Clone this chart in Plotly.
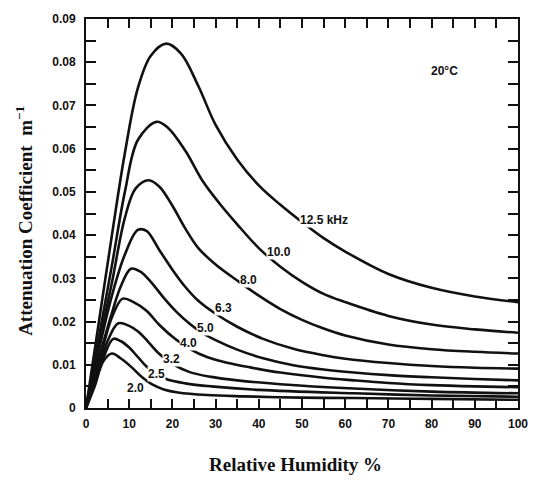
import plotly.graph_objects as go

# Relative humidity (%) and attenuation coefficient (1/m) per frequency
rh_125 = [0, 3, 6, 9, 12, 15, 18.6, 22, 26, 30, 35, 40, 45, 50, 55, 60, 70, 80, 90, 100]
a_125 = [0, 0.020, 0.040, 0.059, 0.074, 0.0815, 0.0843, 0.082, 0.0745, 0.0655, 0.0575, 0.0515, 0.047, 0.043, 0.0393, 0.0362, 0.031, 0.0278, 0.0258, 0.0245]

rh_100 = [0, 3, 6, 9, 12, 16.3, 19, 23, 27, 31, 35, 40, 45, 50, 55, 60, 70, 80, 90, 100]
a_100 = [0, 0.0165, 0.033, 0.050, 0.062, 0.0662, 0.0648, 0.0595, 0.0525, 0.0472, 0.0425, 0.037, 0.0327, 0.0292, 0.0264, 0.0245, 0.0213, 0.0193, 0.0182, 0.0174]

rh_80 = [0, 3, 6, 9, 11.5, 14.5, 17, 20, 23, 26, 30, 35, 40, 45, 50, 55, 60, 70, 80, 90, 100]
a_80 = [0, 0.015, 0.029, 0.044, 0.0508, 0.0527, 0.0512, 0.0468, 0.0415, 0.037, 0.0332, 0.0295, 0.026, 0.0229, 0.0204, 0.0184, 0.0168, 0.0147, 0.0136, 0.013, 0.0126]

rh_63 = [0, 3, 6, 9, 12, 14, 17, 20, 23, 26, 30, 35, 41, 48, 55, 60, 70, 80, 90, 100]
a_63 = [0, 0.0135, 0.026, 0.0355, 0.0412, 0.041, 0.0365, 0.032, 0.028, 0.0248, 0.0218, 0.0188, 0.016, 0.0137, 0.0122, 0.0114, 0.0104, 0.0097, 0.0093, 0.0091]

rh_50 = [0, 3, 6, 8, 10.4, 12.5, 15, 18, 21, 24, 27, 30, 35, 41, 48, 55, 62, 70, 80, 90, 100]
a_50 = [0, 0.0115, 0.022, 0.028, 0.0322, 0.0316, 0.0292, 0.0255, 0.0222, 0.0195, 0.0173, 0.0157, 0.0135, 0.0115, 0.0099, 0.0089, 0.0082, 0.0076, 0.0071, 0.0067, 0.0064]

rh_40 = [0, 3, 6, 8.5, 11, 14, 17, 20.6, 24, 28, 33, 38, 45, 55, 62, 70, 80, 90, 100]
a_40 = [0, 0.0105, 0.021, 0.0253, 0.0245, 0.0225, 0.0192, 0.016, 0.0137, 0.0118, 0.0104, 0.0094, 0.0082, 0.007, 0.0064, 0.0058, 0.0053, 0.005, 0.0048]

rh_32 = [0, 2.5, 5, 7.5, 10, 12.2, 14.5, 17, 20, 24, 29, 35, 45, 62, 80, 100]
a_32 = [0, 0.0075, 0.0155, 0.0196, 0.019, 0.0176, 0.0152, 0.0125, 0.0102, 0.0083, 0.0072, 0.0064, 0.0055, 0.0045, 0.0038, 0.0034]

rh_25 = [0, 2, 4, 6.3, 8, 10, 12, 14, 16, 18.5, 23, 29, 40, 62, 80, 100]
a_25 = [0, 0.0055, 0.0115, 0.016, 0.0155, 0.014, 0.0118, 0.0096, 0.008, 0.0067, 0.0057, 0.005, 0.0042, 0.0034, 0.0029, 0.0026]

rh_20 = [0, 2, 4, 6, 8, 10.6, 13, 15.2, 18, 21.3, 28, 36.4, 50, 62, 80, 100]
a_20 = [0, 0.005, 0.0108, 0.0126, 0.0115, 0.0094, 0.0071, 0.0055, 0.0043, 0.0036, 0.003, 0.0027, 0.0024, 0.0023, 0.0021, 0.0019]

series = [
    (rh_125, a_125), (rh_100, a_100), (rh_80, a_80), (rh_63, a_63), (rh_50, a_50),
    (rh_40, a_40), (rh_32, a_32), (rh_25, a_25), (rh_20, a_20),
]

# Inline curve labels: text, RH, attenuation
label_text = ["12.5 kHz", "10.0", "8.0", "6.3", "5.0", "4.0", "3.2", "2.5", "2.0"]
label_rh = [55.2, 44.6, 37.6, 31.8, 27.7, 23.8, 19.9, 16.4, 11.5]
label_a = [0.0436, 0.0361, 0.0297, 0.0231, 0.0185, 0.0151, 0.0114, 0.0078, 0.0046]

x_ticks = [0, 10, 20, 30, 40, 50, 60, 70, 80, 90, 100]
y_ticks = [0, 0.01, 0.02, 0.03, 0.04, 0.05, 0.06, 0.07, 0.08, 0.09]
y_tick_text = ["0", "0.01", "0.02", "0.03", "0.04", "0.05", "0.06", "0.07", "0.08", "0.09"]

ink = "#111111"
sans = "Liberation Sans, Arial, sans-serif"
serif = "Liberation Serif, Times New Roman, serif"

fig = go.Figure()
for xs, ys in series:
    fig.add_trace(go.Scatter(
        x=xs, y=ys, mode="lines",
        line=dict(color=ink, width=2.6, shape="spline", smoothing=1.0),
        hoverinfo="skip", showlegend=False,
    ))

for t, xv, yv in zip(label_text, label_rh, label_a):
    fig.add_annotation(
        x=xv, y=yv, text=t, showarrow=False, xref="x", yref="y",
        font=dict(family=sans, size=12, color=ink, weight="bold"),
        bgcolor="white", borderpad=0,
    )

fig.add_annotation(
    x=83.0, y=0.0779, text="20°C", showarrow=False, xref="x", yref="y",
    font=dict(family=sans, size=12, color=ink, weight="bold"),
)

fig.add_annotation(
    x=-0.145, y=0.482, xref="paper", yref="paper", textangle=-90,
    xanchor="center", yanchor="middle",
    text="Attenuation Coefficient  m<sup>−1</sup>", showarrow=False,
    font=dict(family=serif, size=19, color=ink, weight="bold"),
)
fig.add_annotation(
    x=0.486, y=-0.145, xref="paper", yref="paper",
    xanchor="center", yanchor="middle",
    text="Relative Humidity %", showarrow=False,
    font=dict(family=serif, size=19, color=ink, weight="bold"),
)

tickfont = dict(family=sans, size=12, color=ink, weight="bold")

fig.update_xaxes(
    range=[0, 100], tickvals=x_ticks, ticks="inside", ticklen=9, tickwidth=1.5, tickcolor=ink,
    showline=True, linecolor=ink, linewidth=2, mirror="allticks",
    minor=dict(dtick=5, ticks="inside", ticklen=9, tickwidth=1.5, tickcolor=ink),
    showgrid=False, zeroline=False, tickfont=tickfont, ticklabelstandoff=4,
)
fig.update_yaxes(
    range=[0, 0.09], tickvals=y_ticks, ticktext=y_tick_text, ticks="inside", ticklen=10, tickwidth=1.5,
    tickcolor=ink,
    showline=True, linecolor=ink, linewidth=2, mirror="allticks",
    minor=dict(dtick=0.005, ticks="inside", ticklen=10, tickwidth=1.5, tickcolor=ink),
    showgrid=False, zeroline=False, tickfont=tickfont, ticklabelstandoff=6,
)

fig.update_layout(
    width=540, height=482,
    margin=dict(l=86, r=12, t=14, b=74),
    paper_bgcolor="white", plot_bgcolor="white",
)

fig.write_html("out.html")
